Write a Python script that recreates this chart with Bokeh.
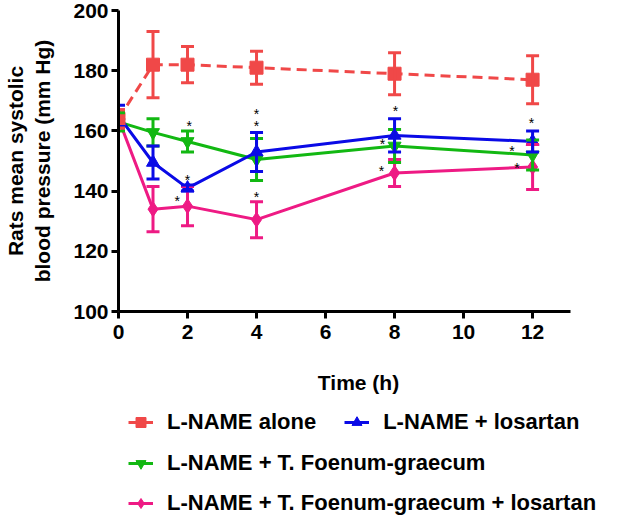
from bokeh.plotting import figure
from bokeh.layouts import column
from bokeh.models import (Range1d, Whisker, TeeHead, ColumnDataSource, Legend,
                          LegendItem, FixedTicker)
from bokeh.core.properties import value
from bokeh.embed import file_html
from bokeh.resources import INLINE

# ---- data ----
times = [0, 1, 2, 4, 8, 12]

lname_mean = [164, 182, 182, 181, 179, 177]
lname_sem = [3, 11, 6, 5.5, 7, 8]

losartan_mean = [165, 149.5, 141, 153, 158.5, 156.5]
losartan_sem = [3.5, 5.5, 1, 6.5, 5.5, 3.5]

tfg_mean = [163, 159.5, 156.5, 150.5, 155, 152]
tfg_sem = [3, 4.5, 3.5, 7, 5.5, 5]

tfg_los_mean = [164, 134, 135, 130.5, 146, 148]
tfg_los_sem = [3, 7.5, 6.5, 6, 4.5, 7.5]

star_x = [2.05, 2.0, 1.7, 4.0, 4.0, 4.0, 8.03, 7.65, 7.62, 11.97, 11.4, 11.55]
star_y = [163, 145, 138, 167, 163, 139.5, 168, 157, 148, 164, 154.5, 149]

x_ticks = [0, 2, 4, 6, 8, 10, 12]
y_ticks = [100, 120, 140, 160, 180, 200]

labels = ["L-NAME alone", "L-NAME + losartan", "L-NAME + T. Foenum-graecum",
          "L-NAME + T. Foenum-graecum + losartan"]

FONT = "Liberation Sans"
RED = "#F04848"
BLUE = "#0A0AE6"
GREEN = "#12B812"
PINK = "#EE1A84"

# frame reaches past the axis end (axis bounded to 13.1) so that the
# aligned legend panel below is wide enough for the longest entry
p = figure(frame_width=480, frame_height=301,
           min_border_left=118, min_border_right=25,
           min_border_top=10, min_border_bottom=90,
           x_range=Range1d(0, 13.91), y_range=Range1d(100, 200),
           output_backend="svg", toolbar_location=None)
p.outline_line_color = None
p.grid.visible = False

for ax in (p.xaxis[0], p.yaxis[0]):
    ax.axis_line_width = 3
    ax.axis_line_color = "black"
    ax.major_tick_line_width = 3
    ax.major_tick_line_color = "black"
    ax.major_tick_out = 7
    ax.major_tick_in = 0
    ax.minor_tick_line_color = None
    ax.major_label_text_font = FONT
    ax.major_label_text_font_size = "21px"
    ax.major_label_text_font_style = "bold"
    ax.major_label_text_color = "black"
    ax.axis_label_text_font = FONT
    ax.axis_label_text_font_size = "21px"
    ax.axis_label_text_font_style = "bold"
    ax.axis_label_text_color = "black"

p.xaxis.ticker = FixedTicker(ticks=x_ticks)
p.yaxis.ticker = FixedTicker(ticks=y_ticks)
p.xaxis.bounds = (0, 13.1)
p.xaxis.axis_label = "Time (h)"
p.yaxis.axis_label = "Rats mean systolic\nblood pressure (mm Hg)"
p.xaxis.major_label_standoff = 6
p.xaxis.axis_label_standoff = 29
p.yaxis.major_label_standoff = 3
p.yaxis.axis_label_standoff = 16

sources = {}


def series(key, mean, sem, color, marker, size, dash):
    src = ColumnDataSource(dict(
        x=times, y=mean,
        upper=[m + s for m, s in zip(mean, sem)],
        lower=[m - s for m, s in zip(mean, sem)]))
    sources[key] = src
    w = Whisker(source=src, base="x", upper="upper", lower="lower",
                line_color=color, line_width=3, level="glyph",
                upper_head=TeeHead(size=13, line_color=color, line_width=3),
                lower_head=TeeHead(size=13, line_color=color, line_width=3))
    p.add_layout(w)
    p.line("x", "y", source=src, line_color=color, line_width=3,
           line_dash=dash)
    p.scatter("x", "y", source=src, marker=marker, size=size,
              fill_color=color, line_color=color)


series("pink", tfg_los_mean, tfg_los_sem, PINK, "diamond", 15, "solid")
series("green", tfg_mean, tfg_sem, GREEN, "inverted_triangle", 13, "solid")
series("blue", losartan_mean, losartan_sem, BLUE, "triangle", 13, "solid")
series("red", lname_mean, lname_sem, RED, "square", 13, "10 6")

p.text(x=star_x, y=star_y, text=["*"] * len(star_x), text_font=value(FONT),
       text_font_size="14px", text_color="black", text_align="center",
       text_baseline="middle", y_offset=4)

# ---- legend panel below the chart (its frame aligns with the chart's) ----
lf = figure(width=623, height=117, x_range=Range1d(0, 1),
            y_range=Range1d(0, 1), x_axis_type=None, y_axis_type=None,
            min_border=0, output_backend="svg", toolbar_location=None)
lf.outline_line_color = None
lf.grid.visible = False


def legend_glyphs(key, color, marker, size):
    # same data as the chart; it lies outside this panel's ranges, so only
    # the legend swatches are visible here
    src = sources[key]
    ln = lf.line("x", "y", source=src, line_color=color, line_width=3)
    sc = lf.scatter("x", "y", source=src, marker=marker, size=size,
                    fill_color=color, line_color=color)
    return [ln, sc]


g_red = legend_glyphs("red", RED, "square", 12)
g_blue = legend_glyphs("blue", BLUE, "triangle", 12)
g_green = legend_glyphs("green", GREEN, "inverted_triangle", 12)
g_pink = legend_glyphs("pink", PINK, "diamond", 12)


def make_legend(items, loc, spacing=28):
    lg = Legend(items=items, location=loc, orientation="horizontal",
                label_text_font=FONT, label_text_font_size="22px",
                label_text_font_style="bold", label_text_color="black",
                glyph_width=25, glyph_height=30, label_height=30,
                label_standoff=14, padding=0, margin=0, spacing=spacing,
                border_line_color=None, background_fill_alpha=0)
    lf.add_layout(lg)


make_legend([LegendItem(label=labels[0], renderers=g_red),
             LegendItem(label=labels[1], renderers=g_blue)], (10, 81))
make_legend([LegendItem(label=labels[2], renderers=g_green)], (10, 40))
make_legend([LegendItem(label=labels[3], renderers=g_pink)], (10, 0))

open("out.html", "w").write(file_html(column(p, lf), INLINE))
